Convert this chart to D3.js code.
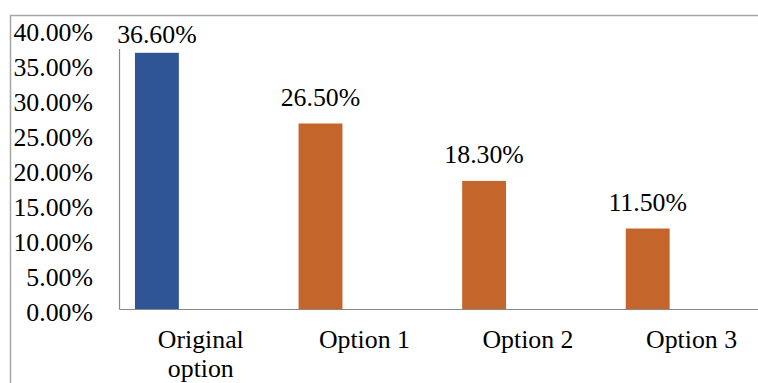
<!DOCTYPE html>
<html>
<head>
<meta charset="utf-8">
<script src="https://cdn.jsdelivr.net/npm/d3@7"></script>
<style>
  html, body { margin: 0; padding: 0; background: #fff; }
  svg { display: block; }
  text { font-family: "Liberation Serif", "Times New Roman", serif; fill: #000; }
</style>
</head>
<body>
<svg id="chart" width="758" height="383"></svg>
<script>
// Chart data
const categories = ["Original option", "Option 1", "Option 2", "Option 3"];
const values = [0.366, 0.265, 0.183, 0.115];
const barColors = ["#2F5597", "#C4662B", "#C4662B", "#C4662B"];
const yTicks = [0, 0.05, 0.10, 0.15, 0.20, 0.25, 0.30, 0.35, 0.40];
// Each category holds three series slots; only the first one carries a value
const seriesSlots = ["s1", "s2", "s3"];

const fontSize = 25.8;
const plot = { left: 119, top: 29, bottom: 309, right: 119 + 4 * 163.6 };

const svg = d3.select("#chart");

// Outer chart-area border
svg.append("rect")
  .attr("x", 10.5).attr("y", 15.5)
  .attr("width", 900).attr("height", 500)
  .attr("fill", "#fff")
  .attr("stroke", "#A6A6A6").attr("stroke-width", 1.5);

const x0 = d3.scaleBand().domain(categories).range([plot.left, plot.right]).padding(0);
const x1 = d3.scaleBand().domain(seriesSlots).range([0, x0.bandwidth()])
  .paddingInner(0).paddingOuter(16 / 44);
const y = d3.scaleLinear().domain([0, 0.4]).range([plot.bottom, plot.top]);

// Bars
svg.append("g").selectAll("rect")
  .data(categories)
  .join("rect")
  .attr("x", (d) => x0(d) + x1("s1"))
  .attr("y", (d, i) => y(values[i]))
  .attr("width", x1.bandwidth())
  .attr("height", (d, i) => y(0) - y(values[i]))
  .attr("fill", (d, i) => barColors[i]);

// Y axis
const yAxis = d3.axisLeft(y)
  .tickValues(yTicks)
  .tickSize(0)
  .tickPadding(26)
  .tickFormat(d3.format(".2%"));
const gy = svg.append("g")
  .attr("transform", `translate(${plot.left},0)`)
  .call(yAxis);
gy.select(".domain").attr("stroke", "#898989").attr("stroke-width", 1.2);
gy.selectAll(".tick text")
  .attr("font-size", fontSize)
  .attr("font-family", "Liberation Serif, serif")
  .attr("dy", 11)
  .attr("fill", "#000");

// X axis
const xAxis = d3.axisBottom(x0).tickSize(0).tickFormat("");
const gx = svg.append("g")
  .attr("transform", `translate(0,${plot.bottom})`)
  .call(xAxis);
gx.select(".domain").attr("stroke", "#898989").attr("stroke-width", 1.2);

// Category labels (wrapped to two lines where needed)
const catLines = { "Original option": ["Original", "option"] };
const catG = svg.append("g");
categories.forEach((c) => {
  const lines = catLines[c] || [c];
  const cx = x0(c) + x0.bandwidth() / 2;
  lines.forEach((ln, k) => {
    catG.append("text")
      .attr("x", cx)
      .attr("y", 348 + k * 29)
      .attr("text-anchor", "middle")
      .attr("font-size", fontSize)
      .text(ln);
  });
});

// Value labels above the bars, kept inside the plot area
const fmt = d3.format(".2%");
const labelG = svg.append("g");
categories.forEach((c, i) => {
  const cx = x0(c) + x1("s1") + x1.bandwidth() / 2;
  const base = Math.max(y(values[i]) - 17.5, plot.top + 14);
  const g = labelG.append("g");
  const bg = g.append("rect").attr("fill", "#fff");
  const t = g.append("text")
    .attr("x", cx)
    .attr("y", base)
    .attr("text-anchor", "middle")
    .attr("font-size", fontSize)
    .text(fmt(values[i]));
  const bb = t.node().getBBox();
  bg.attr("x", bb.x).attr("y", bb.y + 4).attr("width", bb.width).attr("height", bb.height - 4);
});
</script>
</body>
</html>
